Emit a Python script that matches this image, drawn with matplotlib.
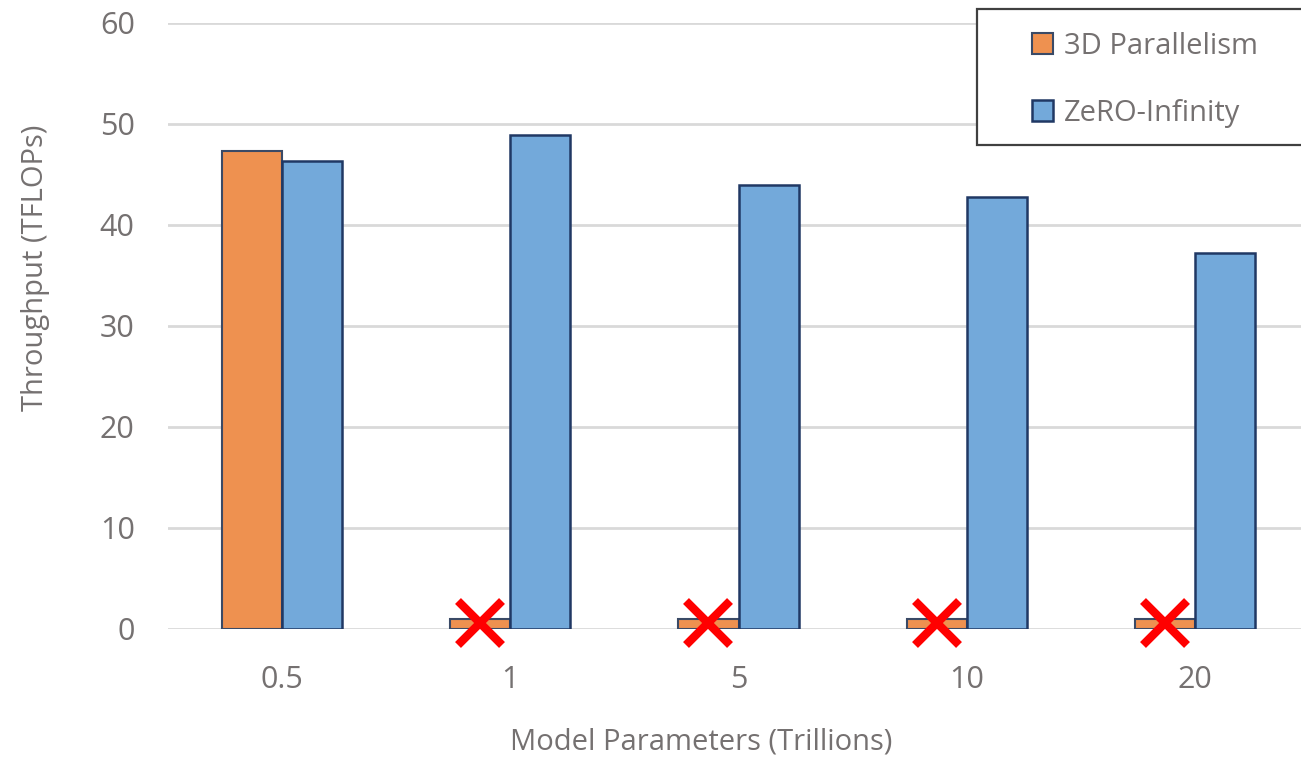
import numpy as np
import matplotlib
matplotlib.use("Agg")
import matplotlib.pyplot as plt
from matplotlib.patches import Rectangle

# data
categories = ["0.5", "1", "5", "10", "20"]
parallel_3d = [47.3, 1.0, 1.0, 1.0, 1.0]
zero_inf = [46.3, 48.9, 43.9, 42.7, 37.2]
failed = [False, True, True, True, True]   # 3D parallelism runs out of memory
fail_mark_y = 0.55

plt.rcParams['font.family'] = ['Open Sans', 'DejaVu Sans']
txt_col = "#757171"

W, H = 1301, 760
fig = plt.figure(figsize=(W/100, H/100), dpi=100)
ax = fig.add_axes([168/W, 1-628.7/H, (1309-168)/W, (628.7-22.7)/H])

x = np.arange(len(categories))
w = 0.263
ax.bar(x - w/2, parallel_3d, w, color="#EE9150", edgecolor="#3A4A66", linewidth=1.5,
       label="3D Parallelism", zorder=3)
ax.bar(x + w/2, zero_inf, w, color="#73A9DA", edgecolor="#203864", linewidth=1.8,
       label="ZeRO-Infinity", zorder=3)

fx = [xi - w/2 for xi, f in zip(x, failed) if f]
ax.plot(fx, [fail_mark_y]*len(fx), linestyle="none", marker="x", markersize=31,
        markeredgewidth=6, color="#FF0000", zorder=5, clip_on=False)

ax.set_xlim(-0.5, len(categories) - 0.5)
ax.set_ylim(0, 60)
ax.set_yticks(range(0, 61, 10))
ax.set_xticks(x)
ax.set_xticklabels(categories)
ax.grid(axis="y", color="#D9D9D9", linewidth=2, zorder=0)
for s in ax.spines.values():
    s.set_visible(False)
ax.tick_params(length=0, labelsize=22, colors=txt_col)
ax.tick_params(axis="y", pad=24)
ax.tick_params(axis="x", pad=26)

ax.set_xlabel("Model Parameters (Trillions)", fontsize=21, color=txt_col)
ax.set_ylabel("Throughput (TFLOPs)", fontsize=21, color=txt_col)
ax.xaxis.set_label_coords((701-168)/1141, (628.7-728)/606)
ax.yaxis.set_label_coords((50-168)/1141, (628.7-268)/606)

# legend box runs off the right edge in the original
fig.patches.append(Rectangle((977/W, 1-145/H), 360/W, 136/H, transform=fig.transFigure,
                             facecolor="white", edgecolor="#404040", linewidth=1.6, zorder=10))
leg = fig.legend(loc="upper left", bbox_to_anchor=(1017/W, 1-17/H),
                 fontsize=21, frameon=False, handlelength=0.75, handleheight=0.75,
                 handletextpad=0.35, labelspacing=1.3, borderpad=0.0)
leg.set_zorder(11)
for t in leg.get_texts():
    t.set_color(txt_col)

fig.savefig("out.png", dpi=100)
